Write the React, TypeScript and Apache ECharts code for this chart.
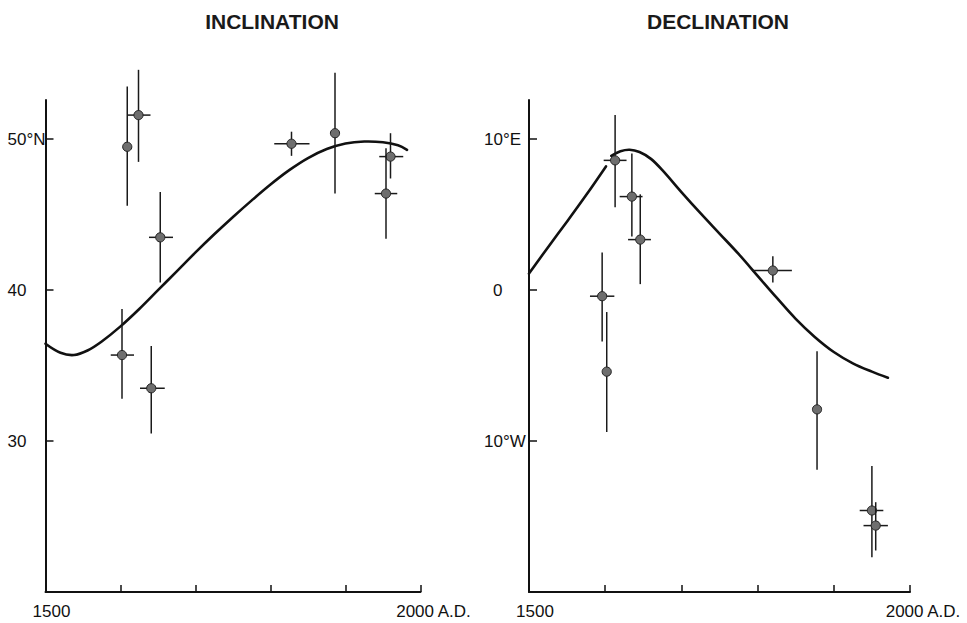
import React, { useEffect, useRef } from "react";
import * as echarts from "echarts";

// ---- axis ticks & labels ----
const xTicks = [1500, 2000];
const xTickLabels = ["1500", "2000 A.D."];
const incTicks = [30, 40, 50];
const incTickLabels = ["30", "40", "50°N"];
const decTicks = [-10, 0, 10];
const decTickLabels = ["10°W", "0", "10°E"];

// ---- INCLINATION observations ----
const incYear = [1609, 1624, 1653, 1602, 1641, 1828, 1886, 1960, 1954];
const incVal = [49.5, 51.6, 43.5, 35.7, 33.5, 49.7, 50.4, 48.85, 46.4];
const incLow = [45.6, 48.5, 40.5, 32.8, 30.5, 48.9, 46.4, 47.4, 43.4];
const incHigh = [53.5, 54.6, 46.5, 38.75, 36.3, 50.5, 54.4, 50.4, 49.4];
const incYearLow = [null, 1609, 1638, 1587, 1626, 1805, null, 1945, 1939];
const incYearHigh = [null, 1640, 1670, 1618, 1659, 1852, null, 1977, 1969];

// ---- INCLINATION model curve ----
const incCurveYear = [1500, 1520, 1538, 1556, 1575, 1600, 1625, 1650, 1675, 1700, 1725, 1750, 1775, 1800, 1825, 1850, 1875, 1900, 1925, 1950, 1970, 1982];
const incCurveVal = [36.45, 35.85, 35.7, 36.0, 36.6, 37.6, 38.75, 40.0, 41.25, 42.5, 43.7, 44.85, 45.95, 47.0, 47.95, 48.75, 49.35, 49.72, 49.85, 49.8, 49.6, 49.3];

// ---- DECLINATION observations ----
const decYear = [1613, 1635, 1646, 1596, 1602, 1820, 1878, 1950, 1955];
const decVal = [8.6, 6.2, 3.35, -0.4, -5.4, 1.3, -7.9, -14.6, -15.6];
const decLow = [5.5, 3.55, 0.4, -3.4, -9.4, 0.5, -11.9, -17.7, -17.25];
const decHigh = [11.6, 9.05, 6.35, 2.5, -1.45, 2.25, -4.05, -11.65, -14.05];
const decYearLow = [1598, 1619, 1630, 1580, null, 1793, null, 1934, 1939];
const decYearHigh = [1628, 1649, 1660, 1612, null, 1845, null, 1965, 1971];

// ---- DECLINATION model curve (two drawn pieces) ----
const decCurveAYear = [1500, 1525, 1550, 1575, 1601];
const decCurveAVal = [1.1, 2.85, 4.55, 6.3, 8.2];
const decCurveBYear = [1608, 1620, 1632, 1645, 1660, 1675, 1700, 1725, 1750, 1775, 1800, 1825, 1850, 1875, 1900, 1925, 1950, 1971];
const decCurveBVal = [8.9, 9.2, 9.3, 9.15, 8.7, 7.95, 6.5, 5.1, 3.75, 2.4, 0.95, -0.5, -1.9, -3.1, -4.1, -4.85, -5.4, -5.8];

const FONT = "Liberation Sans, Arial, sans-serif";
const INK = "#111";

function pairs(xs: number[], ys: number[]) {
  return xs.map((x, i) => [x, ys[i]]);
}

function obsData(y: number[], v: number[], lo: number[], hi: number[], xl: (number | null)[], xh: (number | null)[]) {
  return y.map((yr, i) => [yr, v[i], lo[i], hi[i], xl[i] == null ? NaN : xl[i], xh[i] == null ? NaN : xh[i]]);
}

function renderObs(params: any, api: any) {
  const x = api.value(0);
  const v = api.value(1);
  const lo = api.value(2);
  const hi = api.value(3);
  const xl = api.value(4);
  const xh = api.value(5);
  const c = api.coord([x, v]);
  const pLo = api.coord([x, lo]);
  const pHi = api.coord([x, hi]);
  const children: any[] = [
    {
      type: "line",
      shape: { x1: c[0], y1: pHi[1], x2: c[0], y2: pLo[1] },
      style: { stroke: "#1a1a1a", lineWidth: 1.5 },
    },
  ];
  if (!isNaN(xl) && !isNaN(xh)) {
    const a = api.coord([xl, v]);
    const b = api.coord([xh, v]);
    children.push({
      type: "line",
      shape: { x1: a[0], y1: c[1], x2: b[0], y2: c[1] },
      style: { stroke: "#1a1a1a", lineWidth: 1.5 },
    });
  }
  children.push({
    type: "circle",
    shape: { cx: c[0], cy: c[1], r: 4.6 },
    style: { fill: "#6e6e6e", stroke: "#222", lineWidth: 1 },
  });
  return { type: "group", children };
}

// Smooth curve through all data points of the series, drawn once.
function curveSeries(axisIndex: number, xs: number[], ys: number[]) {
  const data = pairs(xs, ys);
  return {
    type: "custom",
    xAxisIndex: axisIndex,
    yAxisIndex: axisIndex,
    data,
    clip: false,
    renderItem: (params: any, api: any) => {
      if (params.dataIndex !== 0) return null;
      const pts = data.map((d) => api.coord(d));
      return {
        type: "polyline",
        shape: { points: pts, smooth: 0.35 },
        style: { stroke: INK, lineWidth: 2.6, fill: null, lineJoin: "round", lineCap: "round" },
      };
    },
  };
}

function xAxisCfg(gridIndex: number) {
  return {
    type: "value",
    gridIndex,
    min: 1500,
    max: 2000,
    interval: 100,
    splitLine: { show: false },
    axisLine: { show: true, onZero: false, lineStyle: { color: INK, width: 2 } },
    axisTick: { show: true, inside: true, length: 7, lineStyle: { color: INK, width: 1.5 } },
    axisLabel: {
      show: true,
      customValues: xTicks,
      margin: 11,
      color: INK,
      fontFamily: FONT,
      fontSize: 17,
      formatter: (v: number) => (v === xTicks[0] ? "{a|" + xTickLabels[0] + "}" : "{b|" + xTickLabels[1] + "}"),
      rich: {
        a: { padding: [0, 0, 0, 12], fontFamily: FONT, fontSize: 17, color: INK },
        b: { padding: [0, 0, 0, 26], fontFamily: FONT, fontSize: 17, color: INK },
      },
    },
  };
}

function yAxisCfg(gridIndex: number, min: number, max: number, ticks: number[], labels: string[], margin: number, zeroPad: number) {
  return {
    type: "value",
    gridIndex,
    min,
    max,
    splitLine: { show: false },
    axisLine: { show: true, onZero: false, lineStyle: { color: INK, width: 2 } },
    axisTick: { show: true, inside: true, length: 8, customValues: ticks, lineStyle: { color: INK, width: 1.5 } },
    axisLabel: {
      show: true,
      customValues: ticks,
      align: "left",
      margin,
      color: INK,
      fontFamily: FONT,
      fontSize: 17,
      formatter: (v: number) => {
        const i = ticks.indexOf(v);
        const s = i >= 0 ? labels[i] : "";
        return v === 0 ? "{z|" + s + "}" : s;
      },
      rich: {
        z: { padding: [0, 0, 0, zeroPad], fontFamily: FONT, fontSize: 17, color: INK },
      },
    },
  };
}

export default function App() {
  const ref = useRef<HTMLDivElement>(null);
  useEffect(() => {
    if (!ref.current) return;
    const chart = echarts.init(ref.current, null, { renderer: "svg" });
    chart.setOption({
      animation: false,
      backgroundColor: "#ffffff",
      title: [
        {
          text: "INCLINATION",
          left: 267,
          top: 6,
          textAlign: "center",
          textStyle: { fontFamily: FONT, fontSize: 21, fontWeight: "bold", color: "#1a1a1a" },
        },
        {
          text: "DECLINATION",
          left: 713,
          top: 6,
          textAlign: "center",
          textStyle: { fontFamily: FONT, fontSize: 21, fontWeight: "bold", color: "#1a1a1a" },
        },
      ],
      grid: [
        { left: 45.5, top: 100, width: 375, height: 492 },
        { left: 529, top: 100, width: 381, height: 492 },
      ],
      xAxis: [xAxisCfg(0), xAxisCfg(1)],
      yAxis: [
        yAxisCfg(0, 20, 52.6, incTicks, incTickLabels, 38, 0),
        yAxisCfg(1, -20, 12.6, decTicks, decTickLabels, 45, 9),
      ],
      series: [
        curveSeries(0, incCurveYear, incCurveVal),
        {
          type: "custom",
          xAxisIndex: 0,
          yAxisIndex: 0,
          data: obsData(incYear, incVal, incLow, incHigh, incYearLow as any, incYearHigh as any),
          renderItem: renderObs,
          clip: false,
        },
        curveSeries(1, decCurveAYear, decCurveAVal),
        curveSeries(1, decCurveBYear, decCurveBVal),
        {
          type: "custom",
          xAxisIndex: 1,
          yAxisIndex: 1,
          data: obsData(decYear, decVal, decLow, decHigh, decYearLow as any, decYearHigh as any),
          renderItem: renderObs,
          clip: false,
        },
      ],
    });
    return () => chart.dispose();
  }, []);
  return (
    <div
      ref={ref}
      style={{ position: "fixed", left: 0, top: 0, width: 967, height: 623, background: "#fff" }}
    />
  );
}
